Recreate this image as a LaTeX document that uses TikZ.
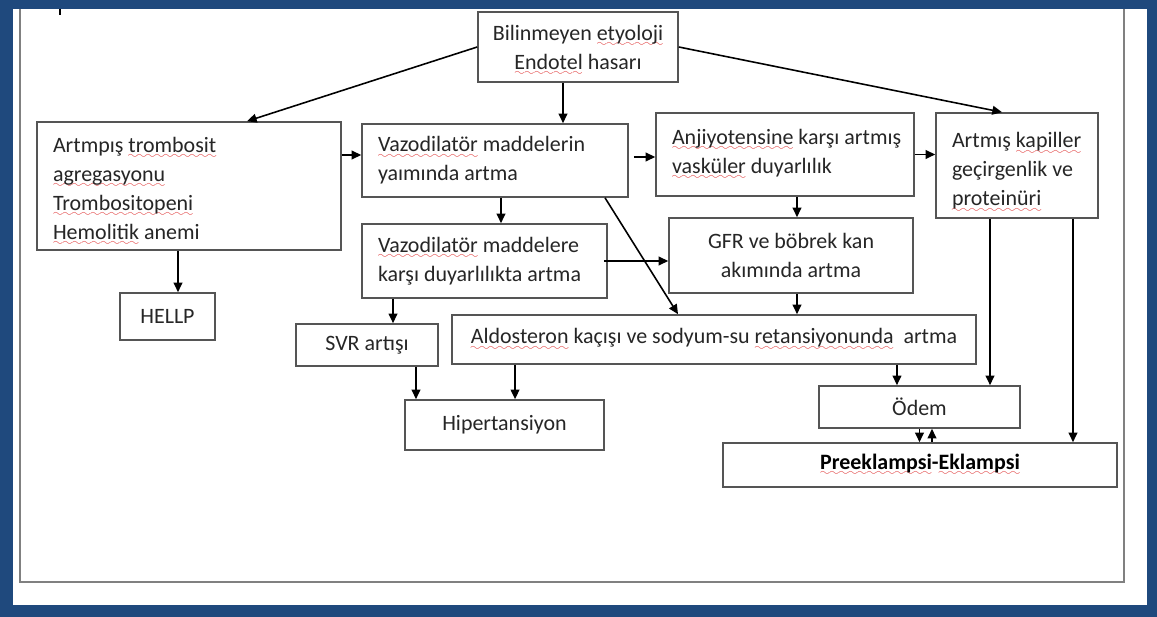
\documentclass[tikz,border=0pt]{standalone}
\usepackage{fontspec}
\setmainfont{Carlito}
\usetikzlibrary{arrows.meta,calc}
\definecolor{frameblue}{RGB}{31,73,125}
\definecolor{txt}{RGB}{38,38,38}
\definecolor{bord}{RGB}{85,85,85}
\definecolor{squig}{RGB}{225,60,60}
\font\mywavefont=lasy6
\newsavebox\sqbox
\newcommand\sq[1]{\leavevmode\sbox\sqbox{#1}\rlap{\raisebox{-3.6pt}{\textcolor{squig}{\hbox to \wd\sqbox{\xleaders\hbox{\mywavefont\char58}\hfil}}}}\usebox\sqbox}
\newcommand\lift[1]{\rule{0pt}{#1}}
\begin{document}
\begin{tikzpicture}[x=0.02cm,y=-0.02cm,
  font=\fontsize{12.5}{16.5}\selectfont,
  box/.style={draw=bord, line width=0.9pt, fill=white, text=txt, inner sep=0pt},
  lbox/.style={box, align=flush left, inner xsep=0.32cm},
  cbox/.style={box, align=center},
  arr/.style={draw=black, line width=0.9pt, -{Triangle[length=5.5pt,width=5pt]}}]
\useasboundingbox (0,0) rectangle (1157,617);
\fill[frameblue] (0,0) rectangle (1157,617);
\fill[white] (13,9) rectangle (1147,605);
\draw[gray, line width=1.2pt] (20,9) -- (20,582) -- (1124,582) -- (1124,9);
\draw[black, line width=1.5pt] (60,9) -- (60,15);

\node[cbox, minimum width=4cm, minimum height=1.4cm] (top) at (578,47)
  {\lift{12.5pt}Bilinmeyen \sq{etyoloji}\\\sq{Endotel} hasarı};
\node[lbox, text width=5.44cm, minimum height=2.56cm] (left) at (189,186)
  {\lift{14.6pt}Artmpış \sq{trombosit}\\\sq{agregasyonu}\\\sq{Trombositopeni}\\\sq{Hemolitik} anemi};
\node[lbox, text width=4.68cm, minimum height=1.46cm] (vaz1) at (495,160.5)
  {\sq{Vazodilatör} maddelerin\\yaımında artma};
\node[lbox, text width=4.52cm, minimum height=1.66cm] (anji) at (785,154.5)
  {\mbox{\sq{Anjiyotensine} karşı artmış}\\\sq{vasküler} duyarlılık};
\node[lbox, text width=2.6cm, minimum height=2.1cm] (kap) at (1017,165.5)
  {\lift{16.5pt}Artmış \sq{kapiller}\\geçirgenlik ve\\\sq{proteinüri}};
\node[lbox, text width=4.26cm, minimum height=1.48cm] (vaz2) at (484.5,261)
  {\sq{Vazodilatör} maddelere\\karşı duyarlılıkta artma};
\node[cbox, minimum width=4.88cm, minimum height=1.5cm] (gfr) at (791,255.5)
  {GFR ve böbrek kan\\akımında artma};
\node[cbox, minimum width=1.9cm, minimum height=0.94cm] (hellp) at (167.5,316.5) {HELLP};
\node[cbox, minimum width=2.84cm, minimum height=0.84cm] (svr) at (367,345) {SVR artışı};
\node[cbox, minimum width=10.48cm, minimum height=0.98cm] (aldo) at (714,339.5)
  {\sq{Aldosteron} kaçışı ve sodyum-su \sq{retansiyonunda}~ artma};
\node[cbox, minimum width=3.98cm, minimum height=1.0cm] (hip) at (504.5,425) {Hipertansiyon};
\node[cbox, minimum width=4.02cm, minimum height=0.84cm] (odem) at (919.5,407) {Ödem};
\node[cbox, minimum width=7.88cm, minimum height=0.88cm, text=black] (pre) at (920,465)
  {\textbf{\sq{Preeklampsi}-\sq{Eklampsi}}};

\draw[arr] (top.west) -- ([xshift=1.16cm]left.north);
\draw[arr] ([xshift=-0.3cm]top.south) -- ([xshift=-0.3cm]top.south |- vaz1.north);
\draw[arr] (top.east) -- ([xshift=-0.3cm]kap.north);
\draw[arr] ([yshift=0.62cm]left.east) -- ([yshift=0.62cm]left.east -| vaz1.west);
\draw[arr] ([xshift=0.1cm,yshift=0.07cm]vaz1.east) -- ([yshift=0.07cm]vaz1.east -| anji.west);
\draw[arr] (anji.east) -- (anji.east -| kap.west);
\draw[arr] ([xshift=0.12cm]vaz1.south) -- ([xshift=0.12cm]vaz1.south |- vaz2.north);
\draw[arr] ([xshift=2.2cm]vaz1.south) -- ([xshift=-0.72cm]aldo.north);
\draw[arr] ([xshift=-0.08cm]vaz2.east) -- (vaz2.east -| gfr.west);
\draw[arr] ([xshift=0.24cm]anji.south) -- ([xshift=0.24cm]anji.south |- gfr.north);
\draw[arr] ([xshift=0.12cm]gfr.south) -- ([xshift=0.12cm]gfr.south |- aldo.north);
\draw[arr] ([xshift=-0.22cm]left.south) -- ([xshift=-0.22cm]left.south |- hellp.north);
\draw[arr] ([xshift=-1.83cm]vaz2.south) -- ([xshift=-1.83cm]vaz2.south |- svr.north);
\draw[arr] ([xshift=0.98cm]svr.south) -- ([xshift=0.98cm]svr.south |- hip.north);
\draw[arr] ([xshift=-3.98cm]aldo.south) -- ([xshift=-3.98cm]aldo.south |- hip.north);
\draw[arr] ([xshift=3.66cm]aldo.south) -- ([xshift=3.66cm]aldo.south |- odem.north);
\draw[arr] ([xshift=-0.54cm]kap.south) -- ([xshift=-0.54cm]kap.south |- odem.north);
\draw[arr] ([xshift=1.12cm]kap.south) -- ([xshift=1.12cm]kap.south |- pre.north);
\draw[arr] (odem.south) -- (odem.south |- pre.north);
\draw[arr] ([xshift=0.25cm]odem.south |- pre.north) -- ([xshift=0.25cm]odem.south);
\end{tikzpicture}
\end{document}
